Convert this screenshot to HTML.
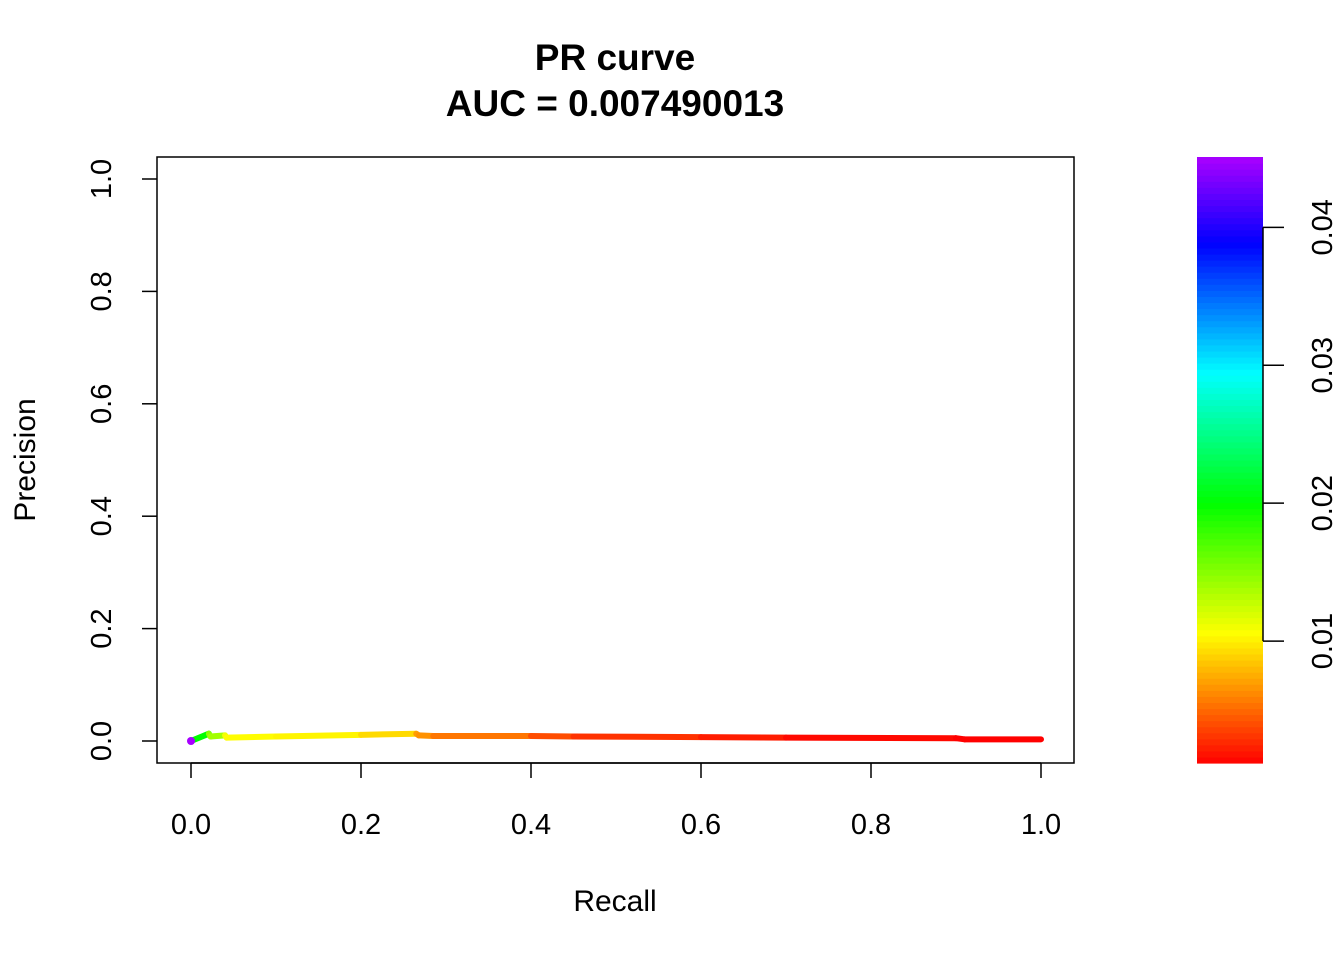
<!DOCTYPE html>
<html><head><meta charset="utf-8"><style>
body{margin:0;background:#fff;}
svg text{font-family:"Liberation Sans",Arial,sans-serif;fill:#000;}
</style></head><body>
<svg id="c" width="1344" height="960" xmlns="http://www.w3.org/2000/svg">
<text x="615" y="70" font-size="37" font-weight="bold" text-anchor="middle">PR curve</text>
<text x="615" y="116" font-size="37" font-weight="bold" text-anchor="middle">AUC = 0.007490013</text>
<rect x="157" y="157" width="917" height="606" fill="none" stroke="#000" stroke-width="1.5"/>
<g id="axes"></g>
<g id="curve"></g>
<g id="cbar"></g>
<text x="615" y="911" font-size="30" text-anchor="middle">Recall</text>
<text transform="translate(35,460) rotate(-90)" font-size="30" text-anchor="middle">Precision</text>
</svg>
<script>
const recall = [0,0.021,0.023,0.04,0.042,0.1,0.2,0.265,0.268,0.285,0.4,0.45,0.6,0.7,0.9,0.91,1.0];
const precision = [0,0.013,0.008,0.010,0.006,0.008,0.011,0.013,0.010,0.009,0.009,0.008,0.007,0.006,0.005,0.003,0.003];
const threshold = [0.045,0.020,0.015,0.014,0.011,0.0105,0.0102,0.0092,0.007,0.0065,0.0055,0.004,0.003,0.0022,0.0015,0.0012,0.0012];
const xTicks = [0,0.2,0.4,0.6,0.8,1.0];
const yTicks = [0,0.2,0.4,0.6,0.8,1.0];
const cTicks = [0.01,0.02,0.03,0.04];
const cMin = 0.00116, cMax = 0.0451;
const NS = "http://www.w3.org/2000/svg";
const xs = v => 191 + v*850;
const ys = v => 741 - v*562;
const cs = v => 763 - (v-cMin)/(cMax-cMin)*606;
const col = t => "hsl(" + (Math.max(0,Math.min(1,(t-cMin)/(cMax-cMin)))*280) + ",100%,50%)";
function mk(tag, attrs, parent){const e=document.createElementNS(NS,tag);for(const k in attrs)e.setAttribute(k,attrs[k]);parent.appendChild(e);return e;}
const axes = document.getElementById("axes");
xTicks.forEach(v=>{
  const l = mk("line",{x1:xs(v),x2:xs(v),y1:763,y2:778,stroke:"#000","stroke-width":1.5},axes);
  
  
  const t = mk("text",{x:xs(v),y:834,"font-size":29,"text-anchor":"middle"},axes);
  t.textContent = v.toFixed(1);
  
  
});
mk("line",{x1:xs(0),x2:xs(1),y1:763,y2:763,stroke:"#000","stroke-width":1.5},axes);
yTicks.forEach(v=>{
  const l = mk("line",{x1:142,x2:157,y1:ys(v),y2:ys(v),stroke:"#000","stroke-width":1.5},axes);
  
  
  const t = mk("text",{transform:"translate(111,"+ys(v)+") rotate(-90)","font-size":29,"text-anchor":"middle"},axes);
  t.textContent = v.toFixed(1);
  
  
});
const curve = document.getElementById("curve");
for(let i=0;i<recall.length-1;i++){
  const s = mk("line",{x1:xs(recall[i]),y1:ys(precision[i]),x2:xs(recall[i+1]),y2:ys(precision[i+1]),stroke:col(threshold[i+1]),"stroke-width":6,"stroke-linecap":"round"},curve);
  
  
}
const p0 = mk("circle",{cx:xs(recall[0]),cy:ys(precision[0]),r:4,fill:col(threshold[0])},curve);


const cb = document.getElementById("cbar");
const N = 100;
for(let i=0;i<N;i++){
  const v0 = cMin + (cMax-cMin)*i/N, v1 = cMin + (cMax-cMin)*(i+1)/N;
  const r = mk("rect",{x:1197,y:cs(v1),width:66,height:cs(v0)-cs(v1)+0.6,fill:col((v0+v1)/2)},cb);
  
  
}
mk("line",{x1:1263,x2:1263,y1:cs(cTicks[0]),y2:cs(cTicks[cTicks.length-1]),stroke:"#000","stroke-width":1.5},cb);
cTicks.forEach(v=>{
  const l = mk("line",{x1:1263,x2:1284,y1:cs(v),y2:cs(v),stroke:"#000","stroke-width":1.5},cb);
  
  
  const t = mk("text",{transform:"translate(1332,"+cs(v)+") rotate(-90)","font-size":29,"text-anchor":"middle"},cb);
  t.textContent = v.toFixed(2);
  
  
});
</script>
</body></html>
